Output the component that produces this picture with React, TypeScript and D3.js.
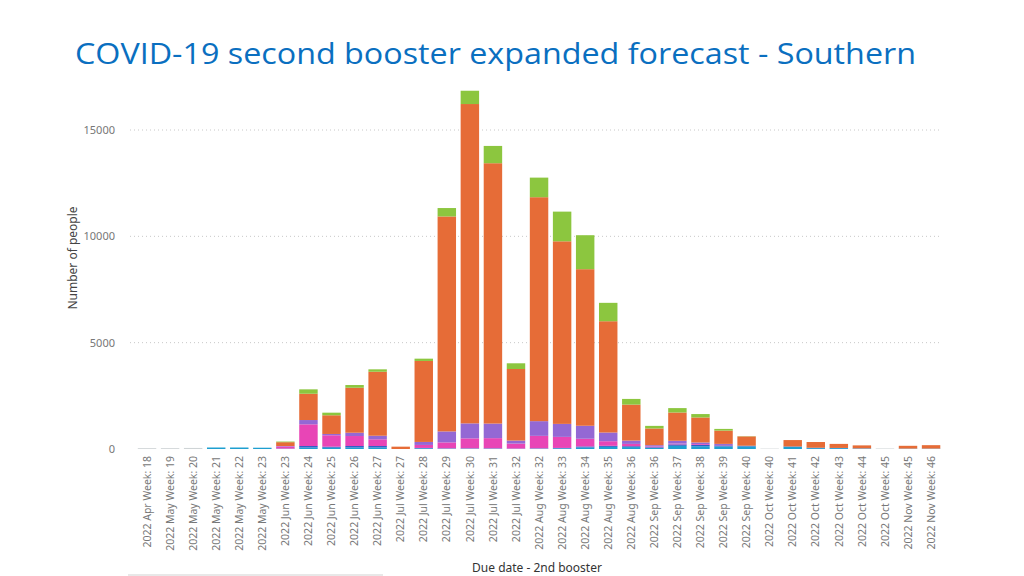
import React from "react";
import * as d3 from "d3";

const categories = [
  "2022 Apr Week: 18", "2022 May Week: 19", "2022 May Week: 20", "2022 May Week: 21",
  "2022 May Week: 22", "2022 May Week: 23", "2022 Jun Week: 23", "2022 Jun Week: 24",
  "2022 Jun Week: 25", "2022 Jun Week: 26", "2022 Jun Week: 27", "2022 Jul Week: 27",
  "2022 Jul Week: 28", "2022 Jul Week: 29", "2022 Jul Week: 30", "2022 Jul Week: 31",
  "2022 Jul Week: 32", "2022 Aug Week: 32", "2022 Aug Week: 33", "2022 Aug Week: 34",
  "2022 Aug Week: 35", "2022 Aug Week: 36", "2022 Sep Week: 36", "2022 Sep Week: 37",
  "2022 Sep Week: 38", "2022 Sep Week: 39", "2022 Sep Week: 40", "2022 Oct Week: 40",
  "2022 Oct Week: 41", "2022 Oct Week: 42", "2022 Oct Week: 43", "2022 Oct Week: 44",
  "2022 Oct Week: 45", "2022 Nov Week: 45", "2022 Nov Week: 46",
];

const grayVals = [40, 40, 50, 0, 0, 0, 0, 0, 0, 0, 0, 0, 0, 0, 0, 0, 0, 0, 0, 0, 0, 0, 0, 0, 0, 0, 0, 20, 0, 0, 0, 0, 25, 0, 0];
const cyanVals = [0, 0, 0, 70, 70, 60, 10, 70, 60, 70, 70, 0, 30, 20, 20, 20, 10, 20, 30, 70, 100, 90, 50, 150, 130, 120, 120, 0, 100, 40, 40, 20, 0, 15, 15];
const blueVals = [0, 0, 0, 0, 0, 0, 10, 70, 50, 70, 70, 0, 20, 10, 10, 10, 10, 10, 20, 50, 50, 40, 30, 66, 58, 50, 35, 0, 20, 20, 10, 10, 0, 5, 5];
const pinkVals = [0, 0, 0, 0, 0, 0, 100, 1020, 536, 470, 315, 0, 141, 280, 470, 480, 235, 588, 520, 362, 216, 110, 40, 40, 40, 20, 0, 0, 0, 0, 0, 0, 0, 0, 0];
const purpleVals = [0, 0, 0, 0, 0, 0, 20, 202, 61, 155, 169, 0, 141, 517, 705, 686, 141, 691, 611, 611, 409, 155, 60, 130, 80, 50, 0, 0, 0, 0, 0, 0, 0, 0, 0];
const orangeVals = [0, 0, 0, 0, 0, 0, 180, 1236, 879, 2116, 3009, 110, 3808, 10108, 15016, 12242, 3366, 10531, 8585, 7362, 5233, 1692, 785, 1330, 1175, 625, 437, 0, 300, 268, 190, 140, 0, 130, 160];
const greenVals = [0, 0, 0, 0, 0, 0, 30, 207, 122, 127, 113, 0, 108, 395, 625, 813, 268, 921, 1396, 1598, 865, 268, 122, 207, 160, 80, 10, 0, 0, 0, 0, 0, 0, 0, 0];

const seriesKeys = ["gray", "cyan", "blue", "pink", "purple", "orange", "green"];
const seriesColors = ["#cfd4d6", "#1e9fd0", "#2a5fc6", "#e845b6", "#9468d4", "#e66c37", "#8cc63f"];
const yTicks = [0, 5000, 10000, 15000];

const title = "COVID-19 second booster expanded forecast - Southern";
const yTitle = "Number of people";
const xTitle = "Due date - 2nd booster";

export default function App() {
  const W = 1024, H = 576;
  const rows = categories.map((c, i) => ({
    cat: c,
    gray: grayVals[i], cyan: cyanVals[i], blue: blueVals[i], pink: pinkVals[i],
    purple: purpleVals[i], orange: orangeVals[i], green: greenVals[i],
  }));
  const stack = d3.stack<any>().keys(seriesKeys)(rows);
  const x = d3.scaleBand().domain(categories).range([135.5, 942.6]).paddingInner(0.2).paddingOuter(0.1);
  const y = d3.scaleLinear().domain([0, 15000]).range([449, 130]);
  const font = "'Noto Sans', 'Open Sans', sans-serif";

  return (
    <svg width={W} height={H} style={{ position: "absolute", left: 0, top: 0, background: "#fff" }}>
      <text x={75} y={64} fontFamily="'Open Sans', sans-serif" fontSize={30} fill="#0a6fc0"
        textLength={841} lengthAdjust="spacingAndGlyphs">{title}</text>

      {yTicks.filter(t => t > 0).map(t => (
        <line key={t} x1={130} x2={942} y1={y(t)} y2={y(t)} stroke="#c8c8c8" strokeWidth={1} strokeDasharray="1,3" />
      ))}
      {yTicks.map(t => (
        <text key={t} x={115} y={y(t)} dy="0.35em" textAnchor="end" fontFamily={font} fontSize={11} fill="#777">{t}</text>
      ))}
      <text transform={`translate(77,258) rotate(-90)`} textAnchor="middle" fontFamily={font} fontSize={12} fill="#444">{yTitle}</text>

      {stack.map((s, si) => (
        <g key={seriesKeys[si]} fill={seriesColors[si]}>
          {s.map((d, i) => {
            const h = y(d[0]) - y(d[1]);
            if (h <= 0) return null;
            return <rect key={i} x={x(categories[i])} y={y(d[1])} width={x.bandwidth()} height={h} />;
          })}
        </g>
      ))}

      {categories.map(c => (
        <text key={c} transform={`translate(${(x(c) as number) + x.bandwidth() / 2},456) rotate(-90)`}
          textAnchor="end" dy="0.35em" fontFamily={font} fontSize={10.5} fill="#777">{c}</text>
      ))}
      <text x={537} y={572} textAnchor="middle" fontFamily={font} fontSize={12} fill="#333">{xTitle}</text>
      <line x1={128} x2={383} y1={575} y2={575} stroke="#e8e8e8" strokeWidth={2} />
    </svg>
  );
}
